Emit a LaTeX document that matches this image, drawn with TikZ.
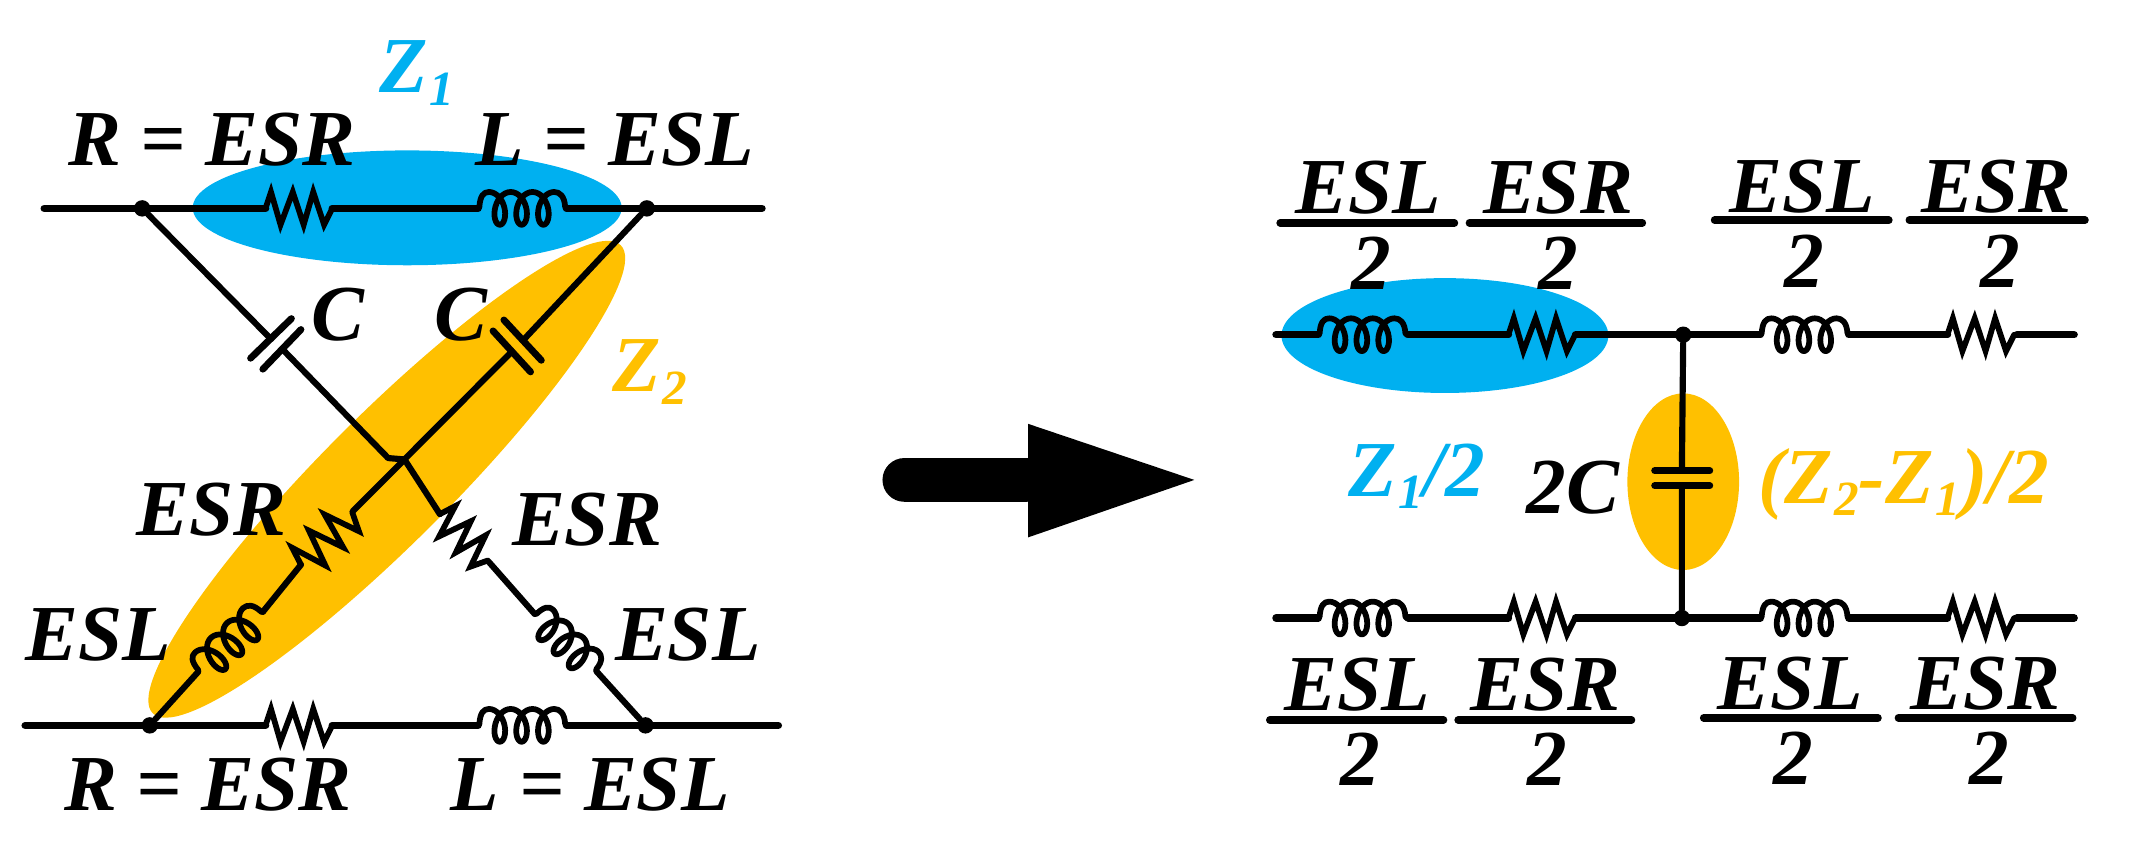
\documentclass[tikz,border=0pt]{standalone}
\usepackage{fontspec}
\setmainfont{Liberation Serif}
\definecolor{zblue}{HTML}{00B0F0}
\definecolor{zorange}{HTML}{FFC000}
\newcommand{\lblfont}{\bfseries\itshape\fontsize{58}{60}\selectfont}
\newcommand{\zsb}[1]{\kern1pt\raisebox{-9pt}{\fontsize{36}{36}\selectfont #1}}
\tikzset{
  lbl/.style={anchor=base west,inner sep=0pt,outer sep=0pt,font=\lblfont},
  wire/.style={line width=5.5pt,line cap=round,line join=round},
  thinwire/.style={line width=4.5pt,line cap=round,line join=round},
  plate/.style={line width=5pt,line cap=round},
  barline/.style={line width=5.5pt,line cap=round},
  dot/.style={circle,fill=black,inner sep=0pt,minimum size=12pt},
  pics/resistor/.style={code={
    \draw[line width=4.2pt,line join=miter,line cap=round]
      (0,0)--(4,-12)--(11,12)--(20,-12)--(28,12)--(35,-12)--(43,12)--(49,0);}},
  pics/inductor/.style={code={
    \draw[line width=4.2pt,line join=round,line cap=round]
      (0,0)--(1,-1) .. controls (1.5,-9) and (4,-12) .. (8,-12)
      plot[domain=-1.5:1.5,samples=91,smooth] ({32+16*\x-7.5*sin(360*\x)},{12*cos(360*\x)})
      .. controls (60,-12) and (63.5,-9) .. (64,-1) -- (65,0);}}
}
\begin{document}
\begin{tikzpicture}[x=0.996pt,y=-1pt]
\useasboundingbox (0,0) rectangle (1566.27,621.66);
% highlights
\fill[zorange,rotate around={45:(284,350.5)}] (284,350.5) ellipse [x radius=243,y radius=47];
\fill[zblue] (299,152) ellipse [x radius=157.5,y radius=42];
\fill[zblue] (1061,245.4) ellipse [x radius=120,y radius=42];
\fill[zorange] (1236,352.3) ellipse [x radius=41,y radius=64.6];
% LEFT: coordinates
\node[dot] (tl) at (104.4,152.4) {};
\node[dot] (tr) at (475,152.4) {};
\node[dot] (bl) at (110,530.5) {};
\node[dot] (br) at (474,530.5) {};
\coordinate (tw) at (32.5,152.4); \coordinate (te) at (559.5,152.4);
\coordinate (bw) at (18.5,530.5); \coordinate (be) at (571.5,530.5);
\coordinate (r1a) at (195,152.4); \coordinate (r1b) at (244,152.4);
\coordinate (l1a) at (351,152.4); \coordinate (l1b) at (416,152.4);
\coordinate (r2a) at (195,530.5); \coordinate (r2b) at (244,530.5);
\coordinate (l2a) at (351,530.5); \coordinate (l2b) at (416,530.5);
\draw[wire] (tw)--(r1a) (r1b)--(l1a) (l1b)--(te);
\draw[wire] (bw)--(r2a) (r2b)--(l2a) (l2b)--(be);
\pic at (r1a) {resistor}; \pic at (l1a) {inductor};
\pic at (r2a) {resistor}; \pic at (l2a) {inductor};
% capacitors
\coordinate (c1a) at (199,248); \coordinate (c1b) at (208,256);
\coordinate (c2a) at (384,249); \coordinate (c2b) at (376,257);
\coordinate (j1) at (285,335); \coordinate (j2) at (297,336);
\draw[thinwire] (tl)--(c1a) (c1b)--(j1)--(j2);
\draw[thinwire] (tr)--(c2a) (c2b)--(j2);
\draw[plate] (184,262)--(214,233);
\draw[plate] (193,270)--(221,241);
\draw[plate] (370,234)--(397.5,263.5);
\draw[plate] (362,242)--(389.6,272);
% lower-left branch
\coordinate (rla) at (221,413); \coordinate (rlb) at (259,374);
\coordinate (lla) at (145.5,491.4); \coordinate (llb) at (193,447.5);
\draw[thinwire] (j2)--(rlb) (rla)--(llb) (lla)--(bl);
\pic[rotate=45.7,scale=1.1] at (rla) {resistor};
\pic[rotate=42.7] at (lla) {inductor};
% lower-right branch
\coordinate (rra) at (323,376); \coordinate (rrb) at (359,411);
\coordinate (lra) at (392.6,449); \coordinate (lrb) at (438,491);
\draw[thinwire] (j2)--(rra) (rrb)--(lra) (lrb)--(br);
\pic[rotate=-44] at (rra) {resistor};
\pic[rotate=-42.8,scale=.95] at (lra) {inductor};
% LEFT labels
\node[lbl,zblue] (z1) at (279,68) {Z\zsb{1}};
\node[lbl] (rt) at (50,120.7) {R = ESR};
\node[lbl] (lt) at (349,120.7) {L = ESL};
\node[lbl] (cl) at (229,249) {C};
\node[lbl] (cr) at (319,249) {C};
\node[lbl,zorange] (z2) at (450,286.5) {Z\zsb{2}};
\node[lbl] (esrl) at (100.5,392) {ESR};
\node[lbl] (esrr) at (376,399) {ESR};
\node[lbl] (esll) at (19,483) {ESL};
\node[lbl] (eslr) at (451.6,483) {ESL};
\node[lbl] (rb) at (47,593) {R = ESR};
\node[lbl] (lb) at (331,593) {L = ESL};
% ARROW
\fill[rounded corners=16pt] (648,335) rectangle (770,367);
\fill (755,310)--(877,351)--(755,393)--cycle;
% RIGHT circuit
\node[dot] (jt) at (1236,244.8) {};
\node[dot] (jb) at (1235,452) {};
\coordinate (ctw) at (937,244.8); \coordinate (cte) at (1523,244.8);
\coordinate (cbw) at (937,452); \coordinate (cbe) at (1523,452);
\coordinate (a1) at (968,244.8); \coordinate (a2) at (1034,244.8);
\coordinate (a3) at (1107.6,244.8); \coordinate (a4) at (1157,244.8);
\coordinate (a5) at (1292.6,244.8); \coordinate (a6) at (1357.6,244.8);
\coordinate (a7) at (1430,244.8); \coordinate (a8) at (1481,244.8);
\coordinate (b1) at (968,452); \coordinate (b2) at (1034,452);
\coordinate (b3) at (1107.6,452); \coordinate (b4) at (1157,452);
\coordinate (b5) at (1292.6,452); \coordinate (b6) at (1357.6,452);
\coordinate (b7) at (1430,452); \coordinate (b8) at (1481,452);
\draw[wire] (ctw)--(a1) (a2)--(a3) (a4)--(a5) (a6)--(a7) (a8)--(cte);
\draw[wire] (cbw)--(b1) (b2)--(b3) (b4)--(b5) (b6)--(b7) (b8)--(cbe);
\pic at (a1) {inductor}; \pic at (a3) {resistor};
\pic at (a5) {inductor}; \pic at (a7) {resistor};
\pic at (b1) {inductor}; \pic at (b3) {resistor};
\pic at (b5) {inductor}; \pic at (b7) {resistor};
\coordinate (cpa) at (1235,344.2); \coordinate (cpb) at (1235,355.2);
\draw[thinwire] (jt)--(cpa) (cpb)--(jb);
\draw[plate] (1215,344.2)--(1255.5,344.2);
\draw[plate] (1215,355.2)--(1255.5,355.2);
% RIGHT labels: top fractions
\node[lbl] (f1) at (951,156) {ESL};
\node[lbl] (f1n) at (992.5,211.6) {2};
\draw[barline] (940,163)--(1068,163);
\node[lbl] (f2) at (1089,156) {ESR};
\node[lbl] (f2n) at (1130,211.6) {2};
\draw[barline] (1079,163)--(1206,163);
\node[lbl] (f3) at (1270,155.6) {ESL};
\node[lbl] (f3n) at (1310,210) {2};
\draw[barline] (1259,161)--(1387,161);
\node[lbl] (f4) at (1411,155.6) {ESR};
\node[lbl] (f4n) at (1454,210) {2};
\draw[barline] (1402,161)--(1531,161);
% bottom fractions
\node[lbl] (g1) at (943,519.7) {ESL};
\node[lbl] (g1n) at (984,574.8) {2};
\draw[barline] (932.4,526.6)--(1060,526.6);
\node[lbl] (g2) at (1080,519.7) {ESR};
\node[lbl] (g2n) at (1122,574.8) {2};
\draw[barline] (1070.7,526.6)--(1198,526.6);
\node[lbl] (g3) at (1261.5,518.8) {ESL};
\node[lbl] (g3n) at (1302,573.6) {2};
\draw[barline] (1251,525)--(1379,525);
\node[lbl] (g4) at (1403,518.8) {ESR};
\node[lbl] (g4n) at (1446,573.6) {2};
\draw[barline] (1394,525)--(1522,525);
% middle labels
\node[lbl,zblue] (z12) at (990.4,362.8) {Z\zsb{1}/2};
\node[lbl] (twoc) at (1121,375.6) {2C};
\node[lbl,zorange] (zd) at (1291,368) {(Z\zsb{2}-Z\zsb{1}\kern1pt)/2};
\end{tikzpicture}
\end{document}
